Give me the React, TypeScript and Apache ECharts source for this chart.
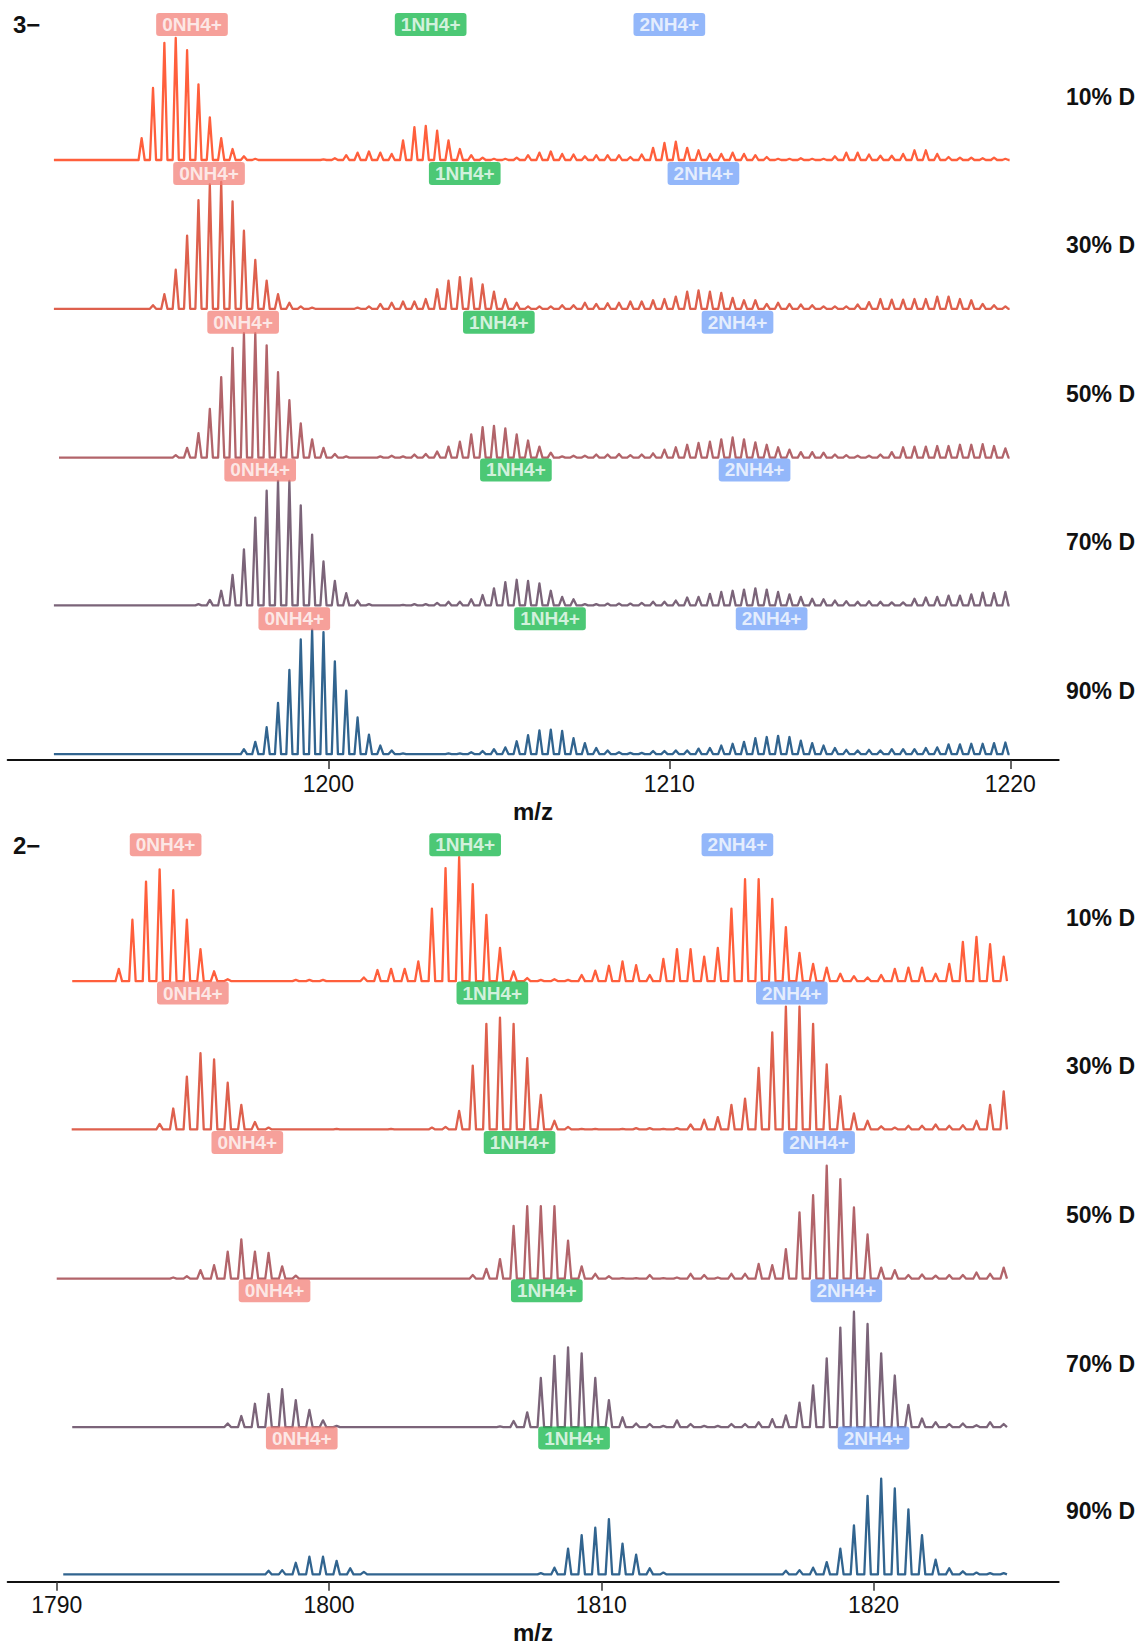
import React, { useEffect, useRef } from "react";
import * as echarts from "echarts";

const FONT = '"Liberation Sans", Arial, Helvetica, sans-serif';

// ---------- shared labels / colours ----------
const TRACE_LABELS = ["10% D", "30% D", "50% D", "70% D", "90% D"];
const TRACE_COLORS = ["#ff5f3c", "#de604d", "#b2646a", "#7b6479", "#31648f"];
const ION_LABELS = ["0NH4+", "1NH4+", "2NH4+"];
const ION_COLORS = ["rgba(243,126,118,0.92)", "rgba(22,184,76,0.96)", "rgba(112,160,248,0.94)"];

// ---------- panel 3− (isotope spacing 1/3) ----------
const Z3_FIRST_PEAK = 1192.19;
const Z3_STEP = 1 / 3;
const Z3_STARTS = [1191.95, 1191.95, 1192.1, 1191.95, 1191.95];
const Z3_END = 1219.98;
const Z3_TICKS = [1200, 1210, 1220];
const Z3_D10 = [
  0, 0, 0, 0, 0, 0, 0, 18, 59, 96,
  100, 90, 62, 35, 18, 9, 3, 1, 0, 0,
  0, 0, 0, 0.5, 1.5, 4, 6, 7, 6, 5,
  16, 27, 28, 24, 16, 9, 4, 2, 1, 1,
  2, 4, 6, 7, 5, 4.5, 3, 4, 4, 4,
  2.5, 4.5, 10, 14, 15, 10, 8, 5, 5, 6,
  5, 4, 2.5, 1, 1, 1.5, 1, 1, 3, 6,
  6, 4.5, 3.5, 3.5, 5, 8, 8, 5, 2.5, 2,
  2, 1.5, 2, 1,
];
const Z3_D30 = [
  0, 0, 0, 0, 0, 0, 0, 0, 3, 12,
  32, 60, 89, 102, 104, 88, 64, 40, 23, 12,
  5, 2, 1, 0, 0, 0, 1, 2, 4, 5,
  6, 6, 8, 16, 23, 26, 25, 20, 14, 8,
  5, 2, 2, 2, 3, 3, 5, 4, 4.5, 5,
  6, 6, 7, 8, 10, 14, 15, 14, 13, 9,
  7, 7, 4, 5, 4, 3.5, 3, 2, 2, 2,
  3.5, 5.5, 8, 7.5, 7.5, 8, 8, 10, 10, 8,
  7, 4, 3, 2,
];
const Z3_D50 = [
  0, 0, 0, 0, 0, 0, 0, 0, 0, 0,
  2, 8, 20, 40, 66, 90, 102, 102, 92, 70,
  47, 28, 15, 8, 3, 1, 0, 0, 1, 1.5,
  1, 2.5, 3, 5, 9, 13, 19, 25, 26, 24,
  19, 14, 9, 4, 1, 1.5, 1.5, 2.5, 2.5, 3,
  2, 2.5, 3.5, 6.5, 8.5, 10.5, 12, 13, 15, 16.5,
  15, 12.5, 10.5, 8.5, 6.5, 4.5, 4.5, 4, 2.5, 2,
  1.5, 1.5, 2.5, 4.5, 8.5, 9, 9, 9.5, 9.5, 10.5,
  10.5, 11, 9.5, 7.5,
];
const Z3_D70 = [
  0, 0, 0, 0, 0, 0, 0, 0, 0, 0,
  0, 0, 1, 4.5, 12, 25, 46, 72, 94, 102,
  102, 82, 58, 36, 20, 10, 4, 1, 0, 0,
  0.5, 1, 1, 2, 3, 3, 5, 8.5, 14, 19,
  21, 20, 18, 12, 7, 5, 1, 1, 1.5, 1.5,
  1.5, 2, 3, 3, 4, 6.5, 7, 9.5, 11, 12,
  13, 14, 13, 11, 9, 7, 5.5, 5, 4, 3.5,
  3, 3.5, 3, 2.5, 2.5, 5.5, 6.5, 7, 8, 8,
  9, 10.5, 10, 11,
];
const Z3_D90 = [
  0, 0, 0, 0, 0, 0, 0, 0, 0, 0,
  0, 0, 0, 0, 0, 0, 4, 10, 22, 42,
  69, 94, 102, 100, 76, 52, 30, 16, 7, 3,
  0.5, 0, 0, 0, 0.5, 0.5, 1.5, 2.5, 4, 5.5,
  10.5, 15.5, 19.5, 20, 19, 13, 9, 5, 3, 1.5,
  1, 1, 2.5, 2.5, 3, 3, 4.5, 5, 7, 8.5,
  10, 13, 14, 15, 14, 11, 9, 7, 5, 3.5,
  3, 3.5, 3, 4, 4, 4, 5, 5.5, 8, 8,
  8.5, 8.5, 9, 9.5,
];
const Z3_LABEL_MZ = [
  [1196, 1203, 1210],
  [1196.5, 1204, 1211],
  [1197.5, 1205, 1212],
  [1198, 1205.5, 1212.5],
  [1199, 1206.5, 1213],
];

// ---------- panel 2− (isotope spacing 1/2) ----------
const Z2_FIRST_PEAK = 1790.78;
const Z2_STEP = 0.5;
const Z2_STARTS = [1790.57, 1790.55, 1790.0, 1790.57, 1790.24];
const Z2_END = 1824.92;
const Z2_TICKS = [1790, 1800, 1810, 1820];
const Z2_D10 = [
  0, 0, 0, 10, 50, 81, 91, 74, 50, 26,
  8, 1.5, 0, 0, 0, 0, 1, 1, 1, 0,
  0, 3, 9, 10, 10, 16, 59, 92, 101, 79,
  54, 27, 8, 2.5, 1, 1.5, 1, 5, 8.5, 12.5,
  16, 13, 5, 18, 26, 26, 20, 27, 59, 83,
  83, 67, 44, 23, 14, 11, 6, 4, 3, 5,
  10, 11, 11, 6, 14, 32, 36, 30, 20,
];
const Z2_D30 = [
  0, 0, 0, 0, 0, 0, 4.5, 17, 43, 62,
  57, 38, 20, 6, 1.5, 0, 0, 0, 0, 0.5,
  0, 0, 0, 0.5, 0, 0, 1.5, 2, 15, 52,
  86, 91, 86, 58, 28, 7, 2, 0.5, 0.5, 0,
  0.5, 1, 1, 0.5, 1, 4, 8, 10, 20, 25,
  50, 79, 100, 100, 86, 53, 27, 13, 7, 2.5,
  1.5, 3, 3, 4, 3, 3.5, 7, 20, 31,
];
const Z2_D50 = [
  0, 0, 0, 0, 0, 0, 0, 1, 2, 7,
  11, 22, 32, 22, 21, 10, 2.5, 0, 0, 0,
  0, 0, 0, 0, 0, 0, 0, 0, 0, 3,
  8, 16, 43, 59, 59, 59, 31, 10, 4, 2,
  0.5, 0.5, 3, 0.5, 1, 4, 3, 1, 4, 4,
  12, 11, 24, 54, 68, 92, 81, 58, 36, 9,
  7, 3, 3.5, 2.5, 3, 3, 5, 4, 9,
];
const Z2_D70 = [
  0, 0, 0, 0, 0, 0, 0, 0, 0, 0,
  0, 3, 9, 19, 27, 31, 22, 14, 5.5, 1,
  0, 0, 0, 0, 0, 0, 0, 0, 0, 0,
  0, 0.5, 5, 12, 40, 58, 65, 60, 40, 22,
  8, 3, 2.5, 1, 5.5, 2.5, 1, 1, 2.5, 2.5,
  4, 6.5, 9.5, 20, 34, 56, 81, 94, 84, 60,
  42, 18, 7, 4, 2.5, 3, 1.5, 4, 2.5,
];
const Z2_D90 = [
  0, 0, 0, 0, 0, 0, 0, 0, 0, 0,
  0, 0, 0, 0, 3, 3.5, 9.5, 14.5, 14.5, 11,
  5, 2, 0, 0, 0, 0, 0, 0, 0, 0,
  0, 0, 0, 0, 1, 5.5, 21, 32, 38, 45,
  25, 16, 5, 1.5, 0, 0, 0, 0, 0, 0,
  0, 0, 3, 3.5, 5.5, 10, 21, 40, 64, 78,
  70, 53, 32, 12, 5, 2.5, 1.5, 1, 1,
];
const Z2_LABEL_MZ = [
  [1794, 1805, 1815],
  [1795, 1806, 1817],
  [1797, 1807, 1818],
  [1798, 1808, 1819],
  [1799, 1809, 1820],
];

// ---------- layout ----------
const W = 1143;
const H = 1646;
const GRID_LEFT = 7.7;
const GRID_RIGHT = W - 1058.7;
const LABEL_LEVEL = 111;

const PANELS = [
  {
    charge: "3\u2212",
    traces: [Z3_D10, Z3_D30, Z3_D50, Z3_D70, Z3_D90],
    starts: Z3_STARTS,
    end: Z3_END,
    first: Z3_FIRST_PEAK,
    step: Z3_STEP,
    halfW: 0.09,
    labels: Z3_LABEL_MZ,
    ticks: Z3_TICKS,
    min: 1190.595,
    max: 1221.42,
    baselines: [160, 308.8, 457.6, 605.4, 754.1],
    unitPx: 1.22,
    axisOffset: 5.9,
    chargeY: 24,
    nameY: 811.5,
  },
  {
    charge: "2\u2212",
    traces: [Z2_D10, Z2_D30, Z2_D50, Z2_D70, Z2_D90],
    starts: Z2_STARTS,
    end: Z2_END,
    first: Z2_FIRST_PEAK,
    step: Z2_STEP,
    halfW: 0.12,
    labels: Z2_LABEL_MZ,
    ticks: Z2_TICKS,
    min: 1788.2,
    max: 1826.8,
    baselines: [981.1, 1129.4, 1278.7, 1427.1, 1574.4],
    unitPx: 1.228,
    axisOffset: 7.3,
    chargeY: 845,
    nameY: 1632,
  },
];

function peakLine(first: number, step: number, start: number, end: number, halfW: number, vals: number[]) {
  const pts: number[][] = [[start, 0]];
  vals.forEach((v, k) => {
    const mz = first + k * step;
    if (v > 0) {
      pts.push([mz - halfW, 0], [mz, v], [mz + halfW, 0]);
    }
  });
  pts.push([end, 0]);
  return pts;
}

function buildOption() {
  const grid: any[] = [];
  const xAxis: any[] = [];
  const yAxis: any[] = [];
  const series: any[] = [];
  const graphic: any[] = [];

  PANELS.forEach((p) => {
    p.traces.forEach((vals, i) => {
      const g = grid.length;
      const h = p.unitPx * 100;
      grid.push({ left: GRID_LEFT, right: GRID_RIGHT, top: p.baselines[i] - h, height: h, containLabel: false });
      const isAxis = i === p.traces.length - 1;
      xAxis.push({
        gridIndex: g,
        type: "value",
        min: p.min,
        max: p.max,
        show: isAxis,
        offset: isAxis ? p.axisOffset : 0,
        splitLine: { show: false },
        axisLine: { show: isAxis, onZero: false, lineStyle: { color: "#111", width: 2 } },
        axisTick: {
          show: isAxis,
          customValues: p.ticks,
          length: 9,
          lineStyle: { color: "#333", width: 1.5 },
        },
        axisLabel: {
          show: isAxis,
          customValues: p.ticks,
          formatter: (v: number) => String(Math.round(v)),
          fontSize: 23,
          fontFamily: FONT,
          color: "#111",
          margin: 12,
        },
      });
      yAxis.push({ gridIndex: g, type: "value", min: 0, max: 100, show: false, splitLine: { show: false } });
      series.push({
        type: "line",
        xAxisIndex: g,
        yAxisIndex: g,
        data: peakLine(p.first, p.step, p.starts[i], p.end, p.halfW, vals),
        symbol: "none",
        showSymbol: false,
        clip: false,
        silent: true,
        z: 2,
        lineStyle: { color: TRACE_COLORS[i], width: 2.3, join: "round" },
        emphasis: { disabled: true },
      });
      series.push({
        type: "scatter",
        xAxisIndex: g,
        yAxisIndex: g,
        clip: false,
        silent: true,
        z: 5,
        symbolSize: 1,
        itemStyle: { color: "rgba(0,0,0,0)" },
        emphasis: { disabled: true },
        label: {
          show: true,
          position: "inside",
          formatter: "{b}",
          color: "rgba(255,255,255,0.95)",
          fontSize: 19,
          lineHeight: 19,
          fontWeight: "bold",
          fontFamily: FONT,
          padding: [2, 6, 2, 6],
          borderRadius: 3,
        },
        data: ION_LABELS.map((name, j) => ({
          name,
          value: [p.labels[i][j], LABEL_LEVEL],
          label: { backgroundColor: ION_COLORS[j] },
        })),
      });
      graphic.push({
        type: "text",
        x: 1066,
        y: p.baselines[i] - 63.5,
        silent: true,
        style: {
          text: TRACE_LABELS[i],
          font: `bold 23px ${FONT}`,
          fill: "#111",
          align: "left",
          verticalAlign: "middle",
        },
      });
    });
    graphic.push({
      type: "text",
      x: 13,
      y: p.chargeY,
      silent: true,
      style: { text: p.charge, font: `bold 24px ${FONT}`, fill: "#111", align: "left", verticalAlign: "middle" },
    });
    graphic.push({
      type: "text",
      x: 533,
      y: p.nameY,
      silent: true,
      style: { text: "m/z", font: `bold 24px ${FONT}`, fill: "#111", align: "center", verticalAlign: "middle" },
    });
  });

  return {
    animation: false,
    backgroundColor: "#ffffff",
    grid,
    xAxis,
    yAxis,
    series,
    graphic,
  };
}

export default function App() {
  const ref = useRef<HTMLDivElement>(null);
  useEffect(() => {
    if (!ref.current) return;
    const chart = echarts.init(ref.current, undefined, { renderer: "svg" });
    chart.setOption(buildOption() as any);
    return () => chart.dispose();
  }, []);
  return (
    <div
      ref={ref}
      style={{ position: "absolute", left: 0, top: 0, width: W, height: H, background: "#fff" }}
    />
  );
}
